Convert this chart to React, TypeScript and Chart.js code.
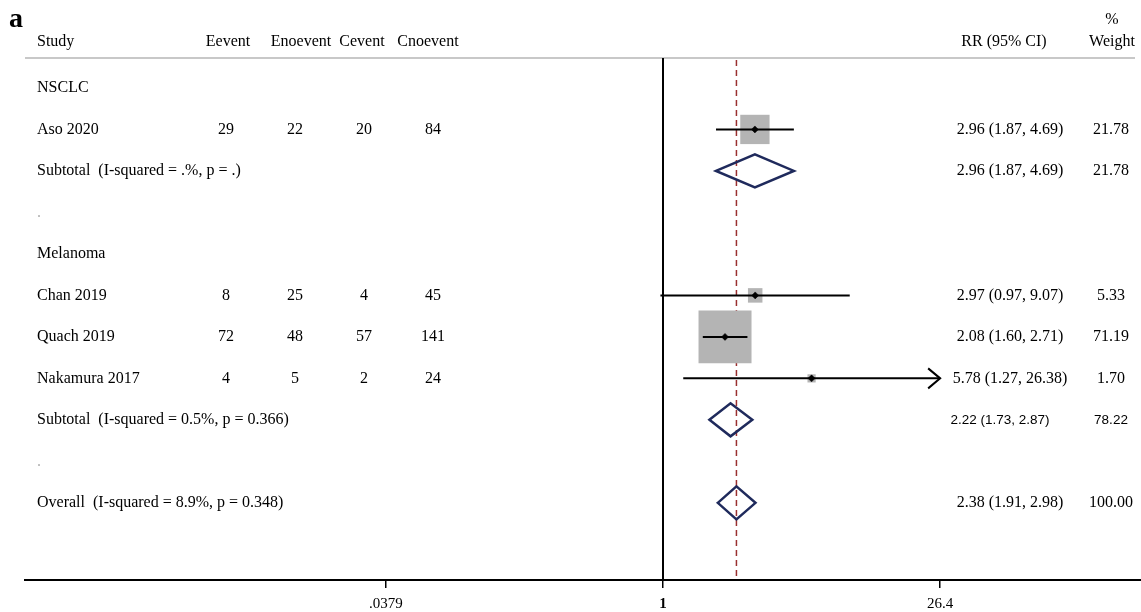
import React, { useEffect, useRef } from 'react';
import { Chart, registerables } from 'chart.js';

Chart.register(...registerables);

// ---------- data ----------
const rowLabels = [
  'NSCLC',
  'Aso 2020',
  'Subtotal  (I-squared = .%, p = .)',
  '.',
  'Melanoma',
  'Chan 2019',
  'Quach 2019',
  'Nakamura 2017',
  'Subtotal  (I-squared = 0.5%, p = 0.366)',
  '.',
  'Overall  (I-squared = 8.9%, p = 0.348)',
];
const rowTypes = ['group', 'study', 'subtotal', 'blank', 'group', 'study', 'study', 'study', 'subtotal', 'blank', 'overall'];
const eEvent = [null, 29, null, null, null, 8, 72, 4, null, null, null];
const eNoEvent = [null, 22, null, null, null, 25, 48, 5, null, null, null];
const cEvent = [null, 20, null, null, null, 4, 57, 2, null, null, null];
const cNoEvent = [null, 84, null, null, null, 45, 141, 24, null, null, null];
const rr = [null, 2.96, 2.96, null, null, 2.97, 2.08, 5.78, 2.22, null, 2.38];
const ciLow = [null, 1.87, 1.87, null, null, 0.97, 1.6, 1.27, 1.73, null, 1.91];
const ciHigh = [null, 4.69, 4.69, null, null, 9.07, 2.71, 26.38, 2.87, null, 2.98];
const weight = [null, 21.78, 21.78, null, null, 5.33, 71.19, 1.7, 78.22, null, 100.0];

const tickValues = [0.0379, 1, 26.4];
const tickLabels = ['.0379', '1', '26.4'];
const nullValue = 1;

const colHeaders = ['Eevent', 'Enoevent', 'Cevent', 'Cnoevent'];

// ---------- style / layout constants ----------
const W = 1141;
const H = 612;
const PLOT_LEFT = 25;
const AXIS_H = 32;
const X_ONE = 663;
const PX_PER_DECADE = 195;
const XMIN = Math.pow(10, -(X_ONE - PLOT_LEFT) / PX_PER_DECADE);
const XMAX = Math.pow(10, (W - X_ONE) / PX_PER_DECADE);
const Y_MIN = -2.12;
const Y_MAX = 11.86;

const SERIF = '"Liberation Serif", "Times New Roman", serif';
const SANS = '"Liberation Sans", Arial, sans-serif';
const sansRows = [8];
const headerX = [228, 301, 362, 428];
const valueX = [226, 295, 364, 433];
const RR_X = 1010;
const WT_X = 1111;

const fmt = (v: number) => v.toFixed(2);

const forestPlugin = {
  id: 'forest',
  beforeDatasetsDraw(chart: any) {
    const { ctx, scales, chartArea } = chart;
    const x = scales.x;
    ctx.save();
    // header rule
    ctx.strokeStyle = '#c8c8c8';
    ctx.lineWidth = 2;
    ctx.beginPath();
    ctx.moveTo(PLOT_LEFT, 58);
    ctx.lineTo(1135, 58);
    ctx.stroke();
    // null line
    const x1 = x.getPixelForValue(nullValue);
    ctx.strokeStyle = '#000';
    ctx.lineWidth = 2;
    ctx.beginPath();
    ctx.moveTo(x1, 58);
    ctx.lineTo(x1, chartArea.bottom);
    ctx.stroke();
    // overall dashed line
    const xo = x.getPixelForValue(rr[rr.length - 1] as number);
    ctx.strokeStyle = '#9a3030';
    ctx.lineWidth = 1.5;
    ctx.setLineDash([6, 4]);
    ctx.beginPath();
    ctx.moveTo(xo, 60);
    ctx.lineTo(xo, chartArea.bottom);
    ctx.stroke();
    ctx.restore();
  },
  afterDatasetDraw(chart: any, args: any) {
    // draw CI lines right after the weight squares (dataset 1), below the point estimates
    if (args.index !== 1) return;
    const { ctx, scales } = chart;
    const { x, y } = scales;
    const maxTick = tickValues[tickValues.length - 1];
    ctx.save();
    ctx.strokeStyle = '#000';
    ctx.lineWidth = 2;
    rowTypes.forEach((t, i) => {
      if (t !== 'study') return;
      const yy = y.getPixelForValue(i);
      const xl = x.getPixelForValue(ciLow[i] as number);
      const hiVal = ciHigh[i] as number;
      const truncated = hiVal / maxTick > 0.99;
      const xh = x.getPixelForValue(truncated ? Math.min(hiVal, maxTick) : hiVal);
      ctx.beginPath();
      ctx.moveTo(xl, yy);
      ctx.lineTo(xh, yy);
      ctx.stroke();
      if (truncated) {
        ctx.beginPath();
        ctx.moveTo(xh - 12, yy - 10);
        ctx.lineTo(xh, yy);
        ctx.lineTo(xh - 12, yy + 10);
        ctx.stroke();
      }
    });
    ctx.restore();
  },
  afterDatasetsDraw(chart: any) {
    const { ctx, scales } = chart;
    const { x, y } = scales;
    ctx.save();
    // diamonds
    ctx.strokeStyle = '#1f2a5c';
    ctx.lineWidth = 2.5;
    ctx.lineJoin = 'miter';
    rowTypes.forEach((t, i) => {
      if (t !== 'subtotal' && t !== 'overall') return;
      const yy = y.getPixelForValue(i);
      const xl = x.getPixelForValue(ciLow[i] as number);
      const xc = x.getPixelForValue(rr[i] as number);
      const xh = x.getPixelForValue(ciHigh[i] as number);
      const h = 16.5;
      ctx.beginPath();
      ctx.moveTo(xl, yy);
      ctx.lineTo(xc, yy - h);
      ctx.lineTo(xh, yy);
      ctx.lineTo(xc, yy + h);
      ctx.closePath();
      ctx.stroke();
    });

    // panel label
    ctx.fillStyle = '#000';
    ctx.textBaseline = 'alphabetic';
    ctx.textAlign = 'left';
    ctx.font = `bold 28px ${SERIF}`;
    ctx.fillText('a', 9, 27);

    // headers
    ctx.font = `16px ${SERIF}`;
    ctx.textBaseline = 'middle';
    ctx.textAlign = 'left';
    ctx.fillText('Study', 37, 42);
    ctx.textAlign = 'center';
    colHeaders.forEach((h, k) => ctx.fillText(h, headerX[k], 42));
    ctx.fillText('RR (95% CI)', 1004, 42);
    ctx.fillText('%', WT_X + 1, 20);
    ctx.fillText('Weight', WT_X + 1, 42);

    // rows
    const cols = [eEvent, eNoEvent, cEvent, cNoEvent];
    rowLabels.forEach((lab, i) => {
      const yy = y.getPixelForValue(i);
      ctx.textAlign = 'left';
      ctx.font = `16px ${SERIF}`;
      ctx.fillStyle = rowTypes[i] === 'blank' ? '#b0b0b0' : '#000';
      ctx.fillText(lab, 37, yy);
      ctx.fillStyle = '#000';
      ctx.textAlign = 'center';
      cols.forEach((c, k) => {
        if (c[i] != null) ctx.fillText(String(c[i]), valueX[k], yy);
      });
      if (rr[i] != null) {
        const sans = sansRows.includes(i);
        ctx.font = sans ? `13.5px ${SANS}` : `16px ${SERIF}`;
        const txt = `${fmt(rr[i] as number)} (${fmt(ciLow[i] as number)}, ${fmt(ciHigh[i] as number)})`;
        ctx.fillText(txt, sans ? RR_X - 10 : RR_X, yy);
        ctx.fillText(fmt(weight[i] as number), WT_X, yy);
      }
    });
    ctx.restore();
  },
};

export default function App() {
  const canvasRef = useRef<HTMLCanvasElement | null>(null);

  useEffect(() => {
    if (!canvasRef.current) return;
    const studyIdx = rowTypes.map((t, i) => (t === 'study' ? i : -1)).filter((i) => i >= 0);
    const squareData = studyIdx.map((i) => ({ x: rr[i] as number, y: i }));
    const pointData = studyIdx.map((i) => ({ x: rr[i] as number, y: i }));
    const squareRadius = studyIdx.map((i) => (6.28 * Math.sqrt(weight[i] as number)) / Math.SQRT2);

    const chart = new Chart(canvasRef.current, {
      type: 'scatter',
      data: {
        datasets: [
          {
            // drawn last (Chart.js paints dataset 0 on top)
            label: 'estimate',
            data: pointData,
            pointStyle: 'rectRot',
            pointRadius: 3.5,
            backgroundColor: '#000',
            borderColor: '#000',
            borderWidth: 0.5,
            clip: false,
          },
          {
            label: 'weight',
            data: squareData,
            pointStyle: 'rect',
            pointRadius: squareRadius,
            backgroundColor: '#b4b4b4',
            borderWidth: 0,
            clip: false,
          },
        ],
      },
      plugins: [forestPlugin],
      options: {
        animation: false,
        responsive: true,
        maintainAspectRatio: false,
        events: [],
        layout: { autoPadding: false, padding: { left: PLOT_LEFT, right: 0, top: 0, bottom: 0 } },
        plugins: { legend: { display: false }, tooltip: { enabled: false } },
        scales: {
          x: {
            type: 'logarithmic',
            min: XMIN,
            max: XMAX,
            bounds: 'data',
            afterBuildTicks: (s: any) => {
              s.ticks = tickValues.map((v) => ({ value: v }));
            },
            afterFit: (s: any) => {
              s.height = AXIS_H;
            },
            ticks: {
              autoSkip: false,
              maxRotation: 0,
              color: '#000',
              padding: 7,
              callback: (_v: any, i: number) => tickLabels[i],
              font: (c: any) => ({
                family: SERIF,
                size: 15,
                weight: c.tick && c.tick.value === nullValue ? 'bold' : 'normal',
              }),
            },
            grid: {
              drawOnChartArea: false,
              drawTicks: true,
              tickLength: 8,
              color: '#000',
              lineWidth: 1.5,
            },
            border: { display: true, color: '#000', width: 2 },
          },
          y: {
            type: 'linear',
            display: false,
            reverse: true,
            min: Y_MIN,
            max: Y_MAX,
          },
        },
      },
    });
    return () => chart.destroy();
  }, []);

  return (
    <div style={{ position: 'absolute', left: 0, top: 0, width: W, height: H, background: '#fff' }}>
      <canvas ref={canvasRef} />
    </div>
  );
}
